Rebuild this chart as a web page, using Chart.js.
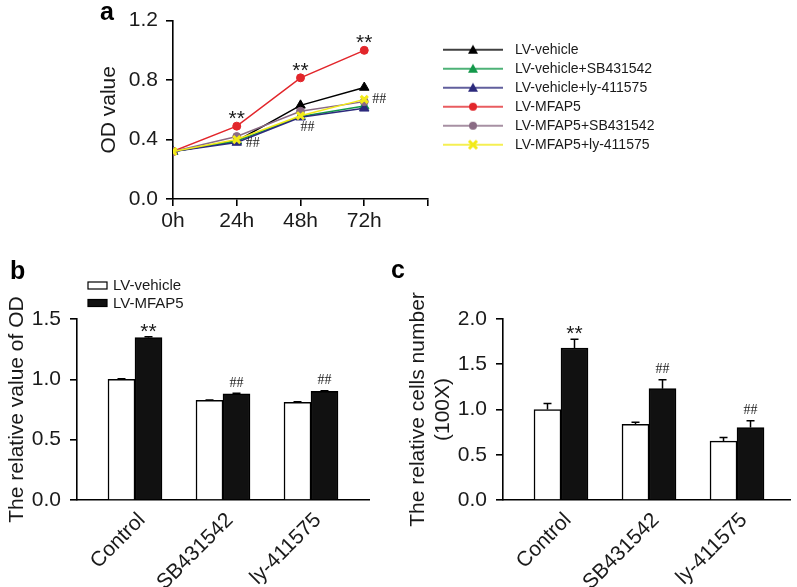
<!DOCTYPE html>
<html>
<head>
<meta charset="utf-8">
<script src="https://cdn.jsdelivr.net/npm/chart.js@4/dist/chart.umd.min.js"></script>
<style>
  body { margin: 0; background: #fff; }
  #wrap { position: relative; width: 797px; height: 587px; }
  canvas { position: absolute; }
  #a { left: 0; top: 0; }
  #b { left: 0; top: 230px; }
  #c { left: 390px; top: 230px; }
</style>
</head>
<body>
<div id="wrap">
  <canvas id="a" width="797" height="235"></canvas>
  <canvas id="b" width="400" height="357"></canvas>
  <canvas id="c" width="407" height="357"></canvas>
</div>
<script>
// panel a: OD value over time
const hours = [0, 24, 48, 72];
const timeLabels = ["0h", "24h", "48h", "72h"];
const lineNames = ["LV-vehicle", "LV-vehicle+SB431542", "LV-vehicle+ly-411575", "LV-MFAP5", "LV-MFAP5+SB431542", "LV-MFAP5+ly-411575"];
const vehicle = [0.32, 0.39, 0.63, 0.75];
const vehicleSB = [0.32, 0.39, 0.555, 0.625];
const vehicleLy = [0.32, 0.38, 0.55, 0.61];
const mfap5 = [0.32, 0.49, 0.815, 1.0];
const mfap5SB = [0.32, 0.42, 0.59, 0.655];
const mfap5Ly = [0.32, 0.40, 0.56, 0.67];
const starsA = ["", "**", "**", "**"];
const hashA = ["", "##", "##", "##"];
const yTicksA = [0, 0.4, 0.8, 1.2];

// panels b and c: bar groups
const groups = ["Control", "SB431542", "ly-411575"];
const barNames = ["LV-vehicle", "LV-MFAP5"];
const odVehicle = [1.0, 0.825, 0.81];
const odVehicleErr = [0.005, 0.004, 0.005];
const odMfap5 = [1.345, 0.88, 0.9];
const odMfap5Err = [0.008, 0.005, 0.006];
const cellVehicle = [1.0, 0.835, 0.65];
const cellVehicleErr = [0.065, 0.025, 0.04];
const cellMfap5 = [1.68, 1.23, 0.8];
const cellMfap5Err = [0.095, 0.1, 0.075];
const starsBar = ["**", "", ""];
const hashBar = ["", "##", "##"];

const SANS = "'Liberation Sans', Arial, sans-serif";
const SERIF = "'Liberation Serif', 'Times New Roman', serif";
Chart.defaults.font.family = SANS;
Chart.defaults.color = "#1a1a1a";
Chart.defaults.animation = false;

const pts = (xs, ys) => ys.map((v, i) => ({ x: xs[i], y: v }));
const pick = (v, i) => (Array.isArray(v) ? v[i] : v || 0);

// draws ** / ## marks above points or bars
const markText = {
  id: "markText",
  afterDatasetsDraw(chart, args, opts) {
    const { ctx } = chart;
    const y = chart.scales.y;
    (opts.items || []).forEach((m) => {
      const ds = chart.data.datasets[m.dataset];
      const meta = chart.getDatasetMeta(m.dataset);
      ctx.save();
      ctx.font = m.font;
      ctx.fillStyle = "#1a1a1a";
      ctx.textAlign = "center";
      ctx.textBaseline = m.baseline;
      m.labels.forEach((t, i) => {
        if (!t) return;
        const err = ds.errors ? ds.errors[i] : 0;
        const top = y.getPixelForValue(ds.data[i].y + err);
        ctx.fillText(t, meta.data[i].x + pick(m.dx, i), top + pick(m.dy, i));
      });
      ctx.restore();
    });
  },
};

// upward error bars with a cap
const errorBars = {
  id: "errorBars",
  afterDatasetsDraw(chart, args, opts) {
    const { ctx } = chart;
    const y = chart.scales.y;
    ctx.save();
    ctx.strokeStyle = "#000";
    ctx.lineWidth = 1.5;
    chart.data.datasets.forEach((ds, di) => {
      if (!ds.errors) return;
      chart.getDatasetMeta(di).data.forEach((bar, i) => {
        const top = y.getPixelForValue(ds.data[i].y + ds.errors[i]);
        ctx.beginPath();
        ctx.moveTo(bar.x, bar.y);
        ctx.lineTo(bar.x, top);
        ctx.moveTo(bar.x - opts.cap, top);
        ctx.lineTo(bar.x + opts.cap, top);
        ctx.stroke();
      });
    });
    ctx.restore();
  },
};

// panel letter and the small box legend of the bar panels
const panelText = {
  id: "panelText",
  afterDraw(chart, args, opts) {
    const { ctx } = chart;
    ctx.save();
    ctx.fillStyle = "#000";
    ctx.font = "bold 25px " + SANS;
    ctx.textBaseline = "alphabetic";
    ctx.fillText(opts.letter, opts.lx, opts.ly);
    if (opts.legend) {
      const L = opts.legend;
      ctx.font = "15px " + SANS;
      ctx.textBaseline = "middle";
      chart.data.datasets.forEach((ds, i) => {
        const top = L.y + i * L.gap;
        ctx.fillStyle = ds.backgroundColor;
        ctx.fillRect(L.x, top, L.w, L.h);
        ctx.strokeStyle = "#000";
        ctx.lineWidth = 1.2;
        ctx.strokeRect(L.x, top, L.w, L.h);
        ctx.fillStyle = "#1a1a1a";
        ctx.fillText(ds.label, L.x + L.w + 6, top + L.h / 2 + 0.5);
      });
    }
    ctx.restore();
  },
};

function legendSymbol(color, style) {
  const c = document.createElement("canvas");
  c.width = 75;
  c.height = 12;
  const g = c.getContext("2d");
  g.strokeStyle = color;
  g.fillStyle = color;
  g.lineWidth = 1.5;
  g.beginPath();
  g.moveTo(10, 6);
  g.lineTo(70, 6);
  g.stroke();
  if (style === "triangle") {
    g.beginPath();
    g.moveTo(40, 1);
    g.lineTo(45, 10);
    g.lineTo(35, 10);
    g.closePath();
    g.fill();
  } else if (style === "circle") {
    g.beginPath();
    g.arc(40, 6, 4, 0, Math.PI * 2);
    g.fill();
  } else {
    g.lineWidth = 3;
    g.beginPath();
    g.moveTo(36, 2);
    g.lineTo(44, 10);
    g.moveTo(44, 2);
    g.lineTo(36, 10);
    g.stroke();
  }
  return c;
}

const lineColors = ["#000000", "#13984a", "#2c2a7c", "#e2262b", "#8a6b84", "#f2ea18"];
const lineStyles = ["triangle", "triangle", "triangle", "circle", "circle", "crossRot"];
const lineData = [vehicle, vehicleSB, vehicleLy, mfap5, mfap5SB, mfap5Ly];

const axisLine = { display: true, color: "#000", width: 1.6 };
const tickFont = { size: 21 };

new Chart(document.getElementById("a"), {
  type: "line",
  data: {
    datasets: lineData.map((d, i) => ({
      label: lineNames[i],
      data: pts(hours, d),
      borderColor: lineColors[i],
      backgroundColor: lineColors[i],
      borderWidth: 1.5,
      pointStyle: lineStyles[i],
      pointRadius: lineStyles[i] === "crossRot" ? 5 : lineStyles[i] === "circle" ? 4 : 5.5,
      pointBorderWidth: lineStyles[i] === "crossRot" ? 3 : 1,
      tension: 0,
      order: 6 - i,
    })),
  },
  plugins: [markText, panelText],
  options: {
    responsive: false,
    layout: { padding: { left: 0, top: 16, right: 139, bottom: 0 } },
    scales: {
      x: {
        type: "linear",
        min: 0,
        max: 96,
        afterBuildTicks: (s) => { s.ticks = hours.concat([96]).map((v) => ({ value: v })); },
        afterFit: (s) => { s.height = 36; },
        ticks: { font: tickFont, padding: 3, maxRotation: 0, callback: (v, i) => timeLabels[i] || "" },
        grid: { drawOnChartArea: false, drawTicks: true, tickLength: 7, color: "#000", lineWidth: 1.6 },
        border: axisLine,
      },
      y: {
        min: 0,
        max: 1.2,
        afterBuildTicks: (s) => { s.ticks = yTicksA.map((v) => ({ value: v })); },
        afterFit: (s) => { s.width = 173; },
        ticks: { font: tickFont, padding: 8, callback: (v) => v.toFixed(1) },
        grid: { drawOnChartArea: false, drawTicks: true, tickLength: 7, color: "#000", lineWidth: 1.6 },
        border: axisLine,
        title: { display: true, text: "OD value", font: { size: 21 }, padding: { top: 97, bottom: 0 } },
      },
    },
    plugins: {
      tooltip: { enabled: false },
      legend: {
        position: "right",
        align: "start",
        maxWidth: 230,
        title: { display: true, text: "", font: { size: 1 }, padding: { top: 20.5, bottom: 0 } },
        labels: {
          usePointStyle: true,
          pointStyleWidth: 75,
          padding: 5,
          color: "#1a1a1a",
          font: { size: 14 },
          sort: (a, b) => a.datasetIndex - b.datasetIndex,
          generateLabels: (chart) =>
            Chart.defaults.plugins.legend.labels.generateLabels(chart).map((it) => {
              it.pointStyle = legendSymbol(lineColors[it.datasetIndex], lineStyles[it.datasetIndex]);
              return it;
            }),
        },
      },
      markText: {
        items: [
          { dataset: 3, labels: starsA, font: "21px " + SANS, baseline: "alphabetic", dx: 0, dy: -1 },
          { dataset: 5, labels: hashA, font: "14px " + SERIF, baseline: "middle", dx: [0, 16, 7, 15], dy: [0, 4, 12, 0] },
        ],
      },
      panelText: { letter: "a", lx: 100, ly: 20 },
    },
  },
});

function barChart(id, v1, e1, v2, e2, yMax, xMax, pad, yWidth, title, titlePad, letter) {
  return new Chart(document.getElementById(id), {
    type: "bar",
    data: {
      datasets: [
        { label: barNames[0], data: pts([1, 2, 3], v1), errors: e1, backgroundColor: "#ffffff", borderColor: "#000", borderWidth: 1.5 },
        { label: barNames[1], data: pts([1, 2, 3], v2), errors: e2, backgroundColor: "#111111", borderColor: "#000", borderWidth: 1.5 },
      ],
    },
    plugins: [errorBars, markText, panelText],
    options: {
      responsive: false,
      barThickness: 27,
      layout: { padding: pad },
      scales: {
        x: {
          type: "linear",
          offset: false,
          min: 0.341,
          max: xMax,
          afterBuildTicks: (s) => { s.ticks = groups.map((g, i) => ({ value: i + 1 })); },
          afterFit: (s) => { s.height = 87; },
          ticks: { font: tickFont, padding: 8, labelOffset: 7, minRotation: 45, maxRotation: 45, autoSkip: false, callback: (v, i) => groups[i] },
          grid: { drawOnChartArea: false, drawTicks: false },
          border: axisLine,
        },
        y: {
          min: 0,
          max: yMax,
          ticks: { font: tickFont, stepSize: 0.5, padding: 9, callback: (v) => v.toFixed(1) },
          afterFit: (s) => { s.width = yWidth; },
          grid: { drawOnChartArea: false, drawTicks: true, tickLength: 7, color: "#000", lineWidth: 1.6 },
          border: axisLine,
          title: { display: true, text: title, font: { size: 21 }, padding: { top: titlePad, bottom: 0 } },
        },
      },
      plugins: {
        tooltip: { enabled: false },
        legend: { display: false },
        errorBars: { cap: 4 },
        markText: {
          items: [
            { dataset: 1, labels: starsBar, font: "21px " + SANS, baseline: "alphabetic", dx: 0, dy: 1 },
            { dataset: 1, labels: hashBar, font: "14px " + SERIF, baseline: "middle", dx: 0, dy: -10 },
          ],
        },
        panelText: letter,
      },
    },
  });
}

barChart("b", odVehicle, odVehicleErr, odMfap5, odMfap5Err, 1.5, 3.659,
  { left: 0, top: 89, right: 31, bottom: 0 }, 77, "The relative value of OD", 5,
  { letter: "b", lx: 10, ly: 49, legend: { x: 88, y: 52, w: 19, h: 7, gap: 17.5 } });

barChart("c", cellVehicle, cellVehicleErr, cellMfap5, cellMfap5Err, 2.0, 3.602,
  { left: 0, top: 89, right: 7, bottom: 0 }, 113, ["The relative cells number", "(100X)"], 15.4,
  { letter: "c", lx: 1, ly: 48 });
</script>
</body>
</html>
